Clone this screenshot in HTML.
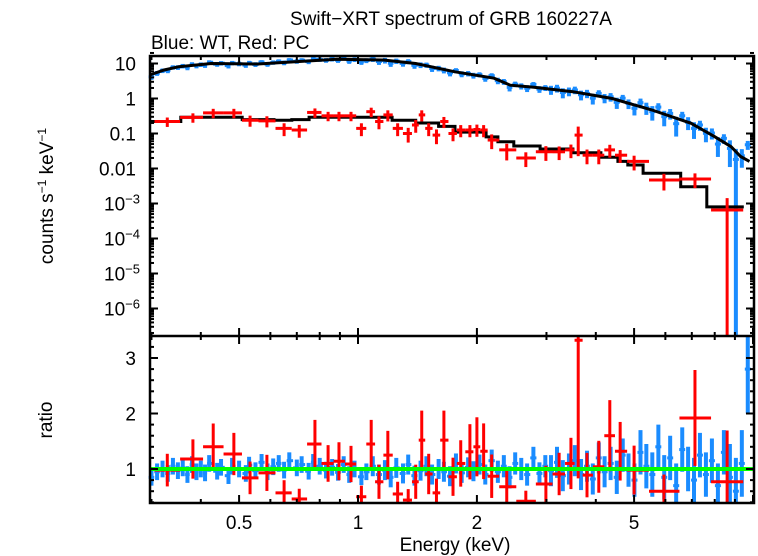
<!DOCTYPE html>
<html><head><meta charset="utf-8"><style>
body{margin:0;background:#fff}
svg{display:block;font-family:"Liberation Sans",sans-serif}
</style></head><body>
<svg id="chart" width="758" height="556" viewBox="0 0 758 556" xmlns="http://www.w3.org/2000/svg">
<rect width="758" height="556" fill="#fff"/>
<text x="451" y="25" font-size="19" text-anchor="middle">Swift−XRT spectrum of GRB 160227A</text>
<text x="151" y="49" font-size="19">Blue: WT, Red: PC</text>
<text transform="translate(53,196) rotate(-90)" font-size="19" text-anchor="middle">counts s<tspan font-size="12" dy="-7">−1</tspan><tspan dy="7"> keV</tspan><tspan font-size="12" dy="-7">−1</tspan></text>
<text transform="translate(52,420) rotate(-90)" font-size="19" text-anchor="middle">ratio</text>
<text x="455" y="551" font-size="19" text-anchor="middle">Energy (keV)</text>
<g id="marks"></g>
<g id="axes"></g>
</svg>
<script>
// ---- data ----
const wtModelE = [0.297,0.323,0.352,0.425,0.558,0.701,0.885,1.16,1.40,1.76,2.21,2.43,2.79,3.50,4.40,5.55,6.97,8.0,8.8,9.3,9.8];
const wtModelV = [4.7,6.5,8.1,10.0,9.7,11.3,13.2,12.6,10.0,5.8,3.8,2.4,2.1,1.56,1.0,0.47,0.195,0.081,0.042,0.022,0.016];
const pcStepEdges = [0.297,0.356,0.509,0.613,0.68,0.752,1.22,1.40,1.60,1.76,2.11,2.26,2.48,2.89,3.50,4.12,4.55,4.82,5.27,6.56,7.64,9.48];
const pcStepV = [0.22,0.29,0.25,0.24,0.25,0.29,0.24,0.20,0.16,0.11,0.08,0.058,0.044,0.036,0.028,0.021,0.016,0.0126,0.0073,0.003,0.0008];
const redE = [0.329,0.382,0.43,0.485,0.533,0.588,0.65,0.71,0.778,0.84,0.895,0.96,1.02,1.08,1.13,1.19,1.26,1.34,1.40,1.45,1.51,1.58,1.65,1.74,1.82,1.92,2.0,2.08,2.18,2.38,2.66,2.99,3.23,3.46,3.61,3.80,4.07,4.34,4.61,5.0,5.95,7.13,8.6];
const redFlux = [0.22,0.29,0.39,0.39,0.24,0.23,0.14,0.126,0.4,0.32,0.32,0.32,0.14,0.42,0.22,0.34,0.14,0.1,0.175,0.34,0.14,0.09,0.22,0.1,0.126,0.126,0.13,0.126,0.065,0.034,0.02,0.03,0.03,0.034,0.09,0.024,0.024,0.034,0.024,0.016,0.0047,0.005,0.00065];
const redRatio = [0.98,1.18,1.40,1.27,0.84,0.93,0.57,0.46,1.45,1.1,1.14,1.09,0.5,1.45,0.77,1.25,0.55,0.44,0.77,1.52,0.91,0.57,1.52,0.86,1.1,1.31,1.40,1.32,0.87,0.68,0.42,0.73,0.91,1.1,3.32,0.89,1.04,1.6,1.32,0.98,0.6,1.92,0.77];
const redErr = [0.3,0.3,0.3,0.3,0.35,0.35,0.4,0.4,0.3,0.3,0.3,0.3,0.4,0.3,0.4,0.35,0.4,0.45,0.4,0.35,0.4,0.45,0.35,0.4,0.38,0.38,0.38,0.38,0.45,0.5,0.45,0.45,0.42,0.42,0.75,0.45,0.45,0.4,0.4,0.45,0.5,0.45,1.2];
const blueE = [0.30,0.31,0.32,0.33,0.34,0.35,0.36,0.37,0.38,0.39,0.40,0.41,0.42,0.44,0.45,0.47,0.48,0.50,0.52,0.53,0.55,0.57,0.59,0.61,0.63,0.65,0.67,0.70,0.72,0.75,0.77,0.80,0.83,0.86,0.89,0.92,0.95,0.98,1.02,1.05,1.09,1.13,1.17,1.21,1.25,1.30,1.34,1.39,1.44,1.49,1.54,1.60,1.65,1.71,1.77,1.83,1.90,1.96,2.03,2.10,2.18,2.26,2.34,2.42,2.50,2.59,2.68,2.78,2.88,2.98,3.08,3.19,3.30,3.42,3.54,3.67,3.80,3.93,4.07,4.21,4.36,4.52,4.68,4.84,5.01,5.19,5.37,5.56,5.76,5.96,6.17,6.39,6.62,6.85,7.09,7.34,7.60,7.87,8.15,8.44,8.74,9.05,9.37,9.70];
const blueRatio = [0.85,0.95,1.0,0.92,1.05,0.97,1.02,0.9,1.08,0.95,1.0,0.93,1.1,0.96,1.03,0.88,1.05,1.0,0.92,1.07,0.97,1.12,0.95,1.04,1.1,0.98,1.15,1.02,1.08,0.96,1.12,1.05,0.98,1.03,0.94,1.08,0.9,1.0,0.86,0.95,1.05,0.9,0.98,0.85,1.02,0.92,1.08,0.88,0.97,1.05,0.9,1.0,0.95,0.87,1.1,0.93,1.03,0.96,1.08,0.9,1.15,0.95,1.05,0.85,1.1,1.0,0.9,1.2,0.92,1.05,0.97,1.12,0.88,1.0,1.15,0.9,1.05,0.82,1.2,0.95,1.1,0.85,1.25,0.98,0.8,1.3,1.05,0.9,1.4,0.85,1.2,0.7,1.35,1.0,0.8,1.25,0.9,1.15,0.7,1.3,0.85,0.6,1.1,2.8];
const blueErr = [0.15,0.15,0.15,0.15,0.15,0.15,0.15,0.15,0.15,0.15,0.15,0.15,0.15,0.15,0.15,0.15,0.15,0.15,0.15,0.15,0.15,0.15,0.15,0.15,0.15,0.15,0.15,0.15,0.15,0.15,0.15,0.15,0.15,0.15,0.15,0.15,0.15,0.15,0.15,0.15,0.18,0.18,0.18,0.18,0.18,0.18,0.18,0.18,0.18,0.18,0.18,0.18,0.18,0.18,0.18,0.18,0.18,0.18,0.18,0.18,0.2,0.2,0.2,0.2,0.2,0.2,0.2,0.2,0.2,0.2,0.28,0.28,0.28,0.28,0.28,0.28,0.28,0.28,0.28,0.28,0.3,0.3,0.3,0.3,0.3,0.4,0.4,0.4,0.4,0.4,0.4,0.4,0.4,0.4,0.4,0.4,0.4,0.4,0.4,0.4,0.6,0.6,0.6,0.8];
const xTickLabels = [0.5,1,2,5];
const yTopMajor = [10,1,0.1,0.01,0.001,0.0001,0.00001,0.000001];
const yTopLabels = ["10","1","0.1","0.01","10|−3","10|−4","10|−5","10|−6"];
const ratioTicks = [1,2,3];

// ---- geometry ----
const L=150,R=754,T=56,MID=336,B=503;
const X = e => 358 + 395*Math.log10(e);
const YT = v => 98.5 - 35*Math.log10(v);
const YR = r => 469 - 55.5*(r-1);
const clampT = y => Math.max(T, Math.min(MID, y));
const clampR = y => Math.max(MID, Math.min(B, y));
const NS="http://www.w3.org/2000/svg";
const marks=document.getElementById('marks'), axes=document.getElementById('axes');
function mk(tag, parent){const el=document.createElementNS(NS,tag);parent.appendChild(el);return el;}
function line(p,x1,y1,x2,y2,stroke,w){const l=mk('line',p);l.setAttribute('x1',x1);l.setAttribute('y1',y1);l.setAttribute('x2',x2);l.setAttribute('y2',y2);l.setAttribute('stroke',stroke);l.setAttribute('stroke-width',w);return l;}
function modelAt(e){
  if(e<=wtModelE[0]) return wtModelV[0];
  for(let i=1;i<wtModelE.length;i++){ if(e<=wtModelE[i]){const t=(Math.log(e)-Math.log(wtModelE[i-1]))/(Math.log(wtModelE[i])-Math.log(wtModelE[i-1]));return Math.exp(Math.log(wtModelV[i-1])*(1-t)+Math.log(wtModelV[i])*t);} }
  return wtModelV[wtModelV.length-1];
}
function edgesOf(arr,i){
  const lo = i>0 ? Math.sqrt(arr[i-1]*arr[i]) : arr[i]/Math.sqrt(arr[i+1]/arr[i]);
  const hi = i<arr.length-1 ? Math.sqrt(arr[i]*arr[i+1]) : arr[i]*Math.sqrt(arr[i]/arr[i-1]);
  return [lo,hi];
}
const BLUE='#1a8cff';
// blue WT data
const gBlue=mk('g',marks);


for(let i=0;i<blueE.length;i++){
  const [lo,hi]=edgesOf(blueE,i);
  const x=X(blueE[i]), r=blueRatio[i], er=blueErr[i];
  const f=modelAt(blueE[i])*r, fe=modelAt(blueE[i])*er;
  const g=mk('g',gBlue);
  
  
  line(g,X(lo),YT(f),X(hi),YT(f),BLUE,3);
  line(g,x,clampT(YT(f+fe)),x,clampT(f-fe>0?YT(f-fe):MID),BLUE,4);
  line(g,X(lo),YR(r),X(hi),YR(r),BLUE,3);
  line(g,x,clampR(YR(r+er)),x,clampR(YR(r-er)),BLUE,4);
}
// wt model
let d='';
for(let i=0;i<wtModelE.length;i++){d+=(i?'L':'M')+X(wtModelE[i]).toFixed(1)+','+YT(wtModelV[i]).toFixed(1);}
const pm=mk('path',marks);


pm.setAttribute('d',d);pm.setAttribute('fill','none');pm.setAttribute('stroke','#000');pm.setAttribute('stroke-width','3');
// pc step model
d='';
for(let i=0;i<pcStepV.length;i++){const y=YT(pcStepV[i]).toFixed(1);d+=(i?'L':'M')+X(pcStepEdges[i]).toFixed(1)+','+y+'L'+X(pcStepEdges[i+1]).toFixed(1)+','+y;}
const ps=mk('path',marks);


ps.setAttribute('d',d);ps.setAttribute('fill','none');ps.setAttribute('stroke','#000');ps.setAttribute('stroke-width','3');
// red PC data
const gRed=mk('g',marks);


for(let i=0;i<redE.length;i++){
  const [lo,hi]=edgesOf(redE,i);
  const x=X(redE[i]), f=redFlux[i], r=redRatio[i], er=redErr[i];
  const g=mk('g',gRed);
  
  
  line(g,X(lo),YT(f),X(hi),YT(f),'#ff0000',3);
  line(g,x,clampT(YT(f*(1+er))),x,clampT(er<1?YT(f*(1-er)):MID),'#ff0000',3);
  line(g,X(lo),YR(r),X(hi),YR(r),'#ff0000',3);
  line(g,x,clampR(YR(r+er*r)),x,clampR(YR(r-er*r)),'#ff0000',3);
}
// green unity line
const gl=line(marks,L,YR(1),R,YR(1),'#00ff00',4);



// ---- axes ----
const frame=mk('path',axes);


frame.setAttribute('d',`M${L},${T}H${R}V${B}H${L}Z M${L},${MID}H${R}`);
frame.setAttribute('fill','none');frame.setAttribute('stroke','#000');frame.setAttribute('stroke-width','2.5');
// x ticks
for(let dec=0.1;dec<=10;dec*=10){
  for(let k=1;k<=9;k++){
    const e=+(dec*k).toFixed(3); if(e<0.3||e>10) continue;
    const x=X(e); const major=(k===1||k===2||k===5); const len=major?8:4;
    [[T,1],[MID,1],[MID,-1],[B,-1]].forEach(([y,s])=>line(axes,x,y,x,y+s*len,'#000',2));
  }
}
xTickLabels.forEach(v=>{const t=mk('text',axes);
  
  
  t.setAttribute('x',X(v));t.setAttribute('y',529);t.setAttribute('font-size','19');t.setAttribute('text-anchor','middle');t.textContent=String(v);});
// top y ticks
yTopMajor.forEach((v,i)=>{
  const y=YT(v); line(axes,L,y,L+8,y,'#000',2); line(axes,R,y,R-8,y,'#000',2);
  for(let k=2;k<=9;k++){const yy=YT(v*k/10); if(yy>T&&yy<MID){line(axes,L,yy,L+4,yy,'#000',2);line(axes,R,yy,R-4,yy,'#000',2);}}
  const t=mk('text',axes);
  
  
  t.setAttribute('x',136);t.setAttribute('y',y+7);t.setAttribute('font-size','19');t.setAttribute('text-anchor','end');
  const parts=yTopLabels[i].split('|');
  if(parts.length===1){t.textContent=parts[0];}
  else{const a=mk('tspan',t);a.textContent=parts[0];const b=mk('tspan',t);b.setAttribute('font-size','13');b.setAttribute('dy','-7');b.textContent=parts[1];t.setAttribute('x',140);}
});
{const yy=YT(20); line(axes,L,yy,L+4,yy,'#000',2);line(axes,R,yy,R-4,yy,'#000',2);}
// ratio ticks
for(let r=0.4;r<=3.41;r+=0.2){const y=YR(r);const major=Math.abs(r-Math.round(r))<0.01;const len=major?8:4;
  line(axes,L,y,L+len,y,'#000',2);line(axes,R,y,R-len,y,'#000',2);}
ratioTicks.forEach(v=>{const t=mk('text',axes);
  
  
  t.setAttribute('x',136);t.setAttribute('y',YR(v)+7);t.setAttribute('font-size','19');t.setAttribute('text-anchor','end');t.textContent=String(v);});
</script>
</body></html>
